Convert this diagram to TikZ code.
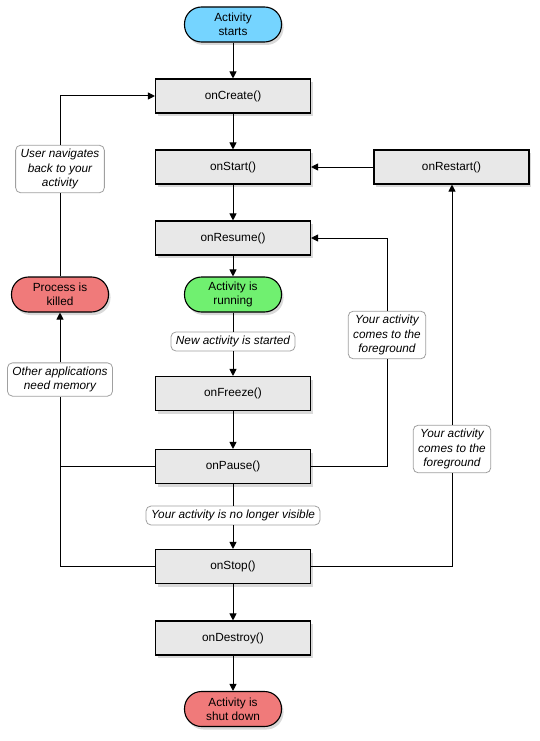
\documentclass[tikz,border=0pt]{standalone}
\usepackage{fontspec}
\setmainfont{Liberation Sans}
\usetikzlibrary{shadows,arrows.meta}
\definecolor{boxgray}{RGB}{232,232,232}
\definecolor{startblue}{RGB}{117,212,255}
\definecolor{rungreen}{RGB}{112,240,112}
\definecolor{killred}{RGB}{240,122,122}
\definecolor{notegray}{RGB}{160,160,160}
\tikzset{
  base/.style={font=\fontsize{11.8}{14.3}\selectfont, align=center, inner sep=0pt},
  procbox/.style={base, draw=black, line width=1.1pt, fill=boxgray,
    minimum width=155pt, minimum height=34pt,
    drop shadow={shadow xshift=2pt, shadow yshift=-3pt, opacity=0.3}},
  term/.style={base, draw=black, line width=1.1pt, rounded corners=17pt,
    minimum width=97pt, minimum height=35pt,
    drop shadow={shadow xshift=2pt, shadow yshift=-3pt, opacity=0.3}},
  note/.style={base, font=\fontsize{11.8}{14.3}\selectfont\itshape, draw=notegray,
    line width=0.8pt, fill=white, rounded corners=5pt, inner xsep=5pt, inner ysep=4pt},
  conn/.style={line width=1pt},
  arr/.style={conn, -{Triangle[length=7pt,width=7pt]}},
}
\begin{document}
\begin{tikzpicture}[x=1pt,y=-1pt]
\useasboundingbox (0,0) rectangle (540,741);
% nodes
\node[term, fill=startblue] (start) at (233,24.5) {Activity\\starts};
\node[procbox] (create) at (233,96) {onCreate()};
\node[procbox] (onstart) at (233,167) {onStart()};
\node[procbox] (restart) at (451.5,167) {onRestart()};
\node[procbox] (resume) at (233,238) {onResume()};
\node[term, fill=rungreen] (running) at (233,294.5) {Activity is\\running};
\node[term, fill=killred] (killed) at (60,294.5) {Process is\\killed};
\node[procbox] (freeze) at (233,393.5) {onFreeze()};
\node[procbox] (pause) at (233,466.5) {onPause()};
\node[procbox] (stop) at (233,566.5) {onStop()};
\node[procbox] (destroy) at (233,638) {onDestroy()};
\node[term, fill=killred] (down) at (233,709) {Activity is\\shut down};
% notes
\node[note] (nuser) at (60,169) {User navigates\\back to your\\activity};
\node[note] (nother) at (60,379.5) {Other applications\\need memory};
\node[note] (nnew) at (233,341.5) {New activity is started};
\node[note] (nvis) at (233,515.5) {Your activity is no longer visible};
\node[note] (nfgone) at (387,335) {Your activity\\comes to the\\foreground};
\node[note] (nfgtwo) at (452,449) {Your activity\\comes to the\\foreground};
% connectors
\draw[arr] (start) -- (create);
\draw[arr] (create) -- (onstart);
\draw[arr] (onstart) -- (resume);
\draw[arr] (resume) -- (running);
\draw[conn] (running) -- (nnew);
\draw[arr] (nnew) -- (freeze);
\draw[arr] (freeze) -- (pause);
\draw[conn] (pause) -- (nvis);
\draw[arr] (nvis) -- (stop);
\draw[arr] (stop) -- (destroy);
\draw[arr] (destroy) -- (down);
\draw[arr] (restart) -- (onstart);
\draw[conn] (pause.east) -| (nfgone.south);
\draw[arr] (nfgone.north) |- (resume.east);
\draw[conn] (stop.east) -| (nfgtwo.south);
\draw[arr] (nfgtwo.north) -- (nfgtwo.north |- restart.south);
\draw[conn] (pause.west) -| (nother.south);
\draw[conn] (stop.west) -| (nother.south);
\draw[arr] (nother.north) -- (killed.south);
\draw[conn] (killed.north) -- (nuser.south);
\draw[arr] (nuser.north) |- (create.west);
\end{tikzpicture}
\end{document}
